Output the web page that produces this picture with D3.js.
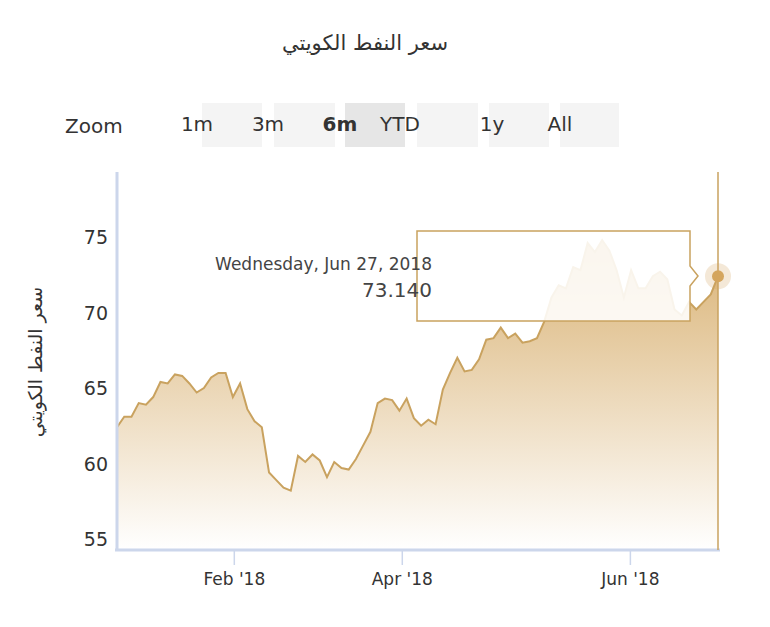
<!DOCTYPE html>
<html><head><meta charset="utf-8">
<script src="https://cdn.jsdelivr.net/npm/d3@7"></script>
<style>body{margin:0;background:#fff}</style></head>
<body><svg id="c" width="770" height="627"></svg>
<script>
const values=[62.4,63.1,63.1,64.0,63.9,64.4,65.4,65.3,65.9,65.8,
65.3,64.7,65.0,65.7,66.0,66.0,64.4,65.3,63.6,62.8,
62.4,59.4,58.9,58.4,58.2,60.5,60.1,60.6,60.2,59.1,
60.1,59.7,59.6,60.3,61.2,62.1,64.0,64.3,64.2,63.5,
64.3,63.0,62.5,62.9,62.6,64.9,66.0,67.0,66.1,66.2,
66.9,68.2,68.3,69.0,68.3,68.6,68.0,68.1,68.3,69.4,
71.0,71.8,71.6,73.0,72.8,74.6,74.0,74.8,74.1,72.8,
71.0,72.8,71.6,71.6,72.4,72.7,72.2,70.2,69.8,70.7,
70.2,70.7,71.2,72.4];
const xTickIdx=[16.2,39.4,70.9];
const xTickLabels=["Feb '18","Apr '18","Jun '18"];
const yTicks=[55,60,65,70,75];
const zoomButtons=["1m","3m","6m","YTD","1y","All"];
const title="سعر النفط الكويتي";
const tooltipDate="Wednesday, Jun 27, 2018";
const tooltipValue="73.140";

const svg=d3.select("#c");
const L=117,R=718,T=172,B=550;
const x=d3.scaleLinear().domain([0,values.length-1]).range([L,R]);
const y=d3.scaleLinear().domain([55,75]).range([539,237]);
const font="'DejaVu Sans',sans-serif";

svg.append("text").attr("x",365).attr("y",50).attr("text-anchor","middle")
 .attr("font-family","'DejaVu Sans',sans-serif").attr("font-size",21).attr("fill","#333").text(title);

// zoom buttons
svg.append("text").attr("x",65).attr("y",133).attr("font-family",font).attr("font-size",20).attr("fill","#333").text("Zoom");
const boxes=[[202,262],[274,290],[290,335],[345,405],[417,478],[489,549],[560,619]];
boxes.forEach((b,i)=>svg.append("rect").attr("x",b[0]).attr("y",103).attr("width",b[1]-b[0]).attr("height",44)
 .attr("fill",i==3?"#e6e6e6":"#f4f4f4"));
const btnX=[197,268,340,400,492,560];
zoomButtons.forEach((t,i)=>svg.append("text").attr("x",btnX[i]).attr("y",131).attr("text-anchor","middle")
 .attr("font-family",font).attr("font-size",20).attr("font-weight",i==2?"bold":"normal").attr("fill","#333").text(t));

// gradient
const g=svg.append("defs").append("linearGradient").attr("id","gr").attr("x1",0).attr("y1",0).attr("x2",0).attr("y2",1);
g.append("stop").attr("offset","0").attr("stop-color","#d9b274");
g.append("stop").attr("offset","1").attr("stop-color","#ffffff");

svg.append("path").datum(values).attr("fill","url(#gr)")
 .attr("d",d3.area().x((d,i)=>x(i)).y0(B).y1(d=>y(d)));
svg.append("path").datum(values).attr("fill","none").attr("stroke","#c9a25f").attr("stroke-width",2)
 .attr("d",d3.line().x((d,i)=>x(i)).y(d=>y(d)));

// axes
svg.append("line").attr("x1",L).attr("x2",L).attr("y1",T).attr("y2",B).attr("stroke","#ccd6eb").attr("stroke-width",3);
svg.append("line").attr("x1",L-2).attr("x2",R+2).attr("y1",B).attr("y2",B).attr("stroke","#ccd6eb").attr("stroke-width",3);
yTicks.forEach(t=>svg.append("text").attr("x",108).attr("y",y(t)+7).attr("text-anchor","end")
 .attr("font-family",font).attr("font-size",19).attr("fill","#333").text(t));
xTickIdx.forEach((t,i)=>{
 svg.append("line").attr("x1",x(t)).attr("x2",x(t)).attr("y1",B).attr("y2",B+15).attr("stroke","#ccd6eb").attr("stroke-width",1.5);
 svg.append("text").attr("x",x(t)).attr("y",585).attr("text-anchor","middle").attr("font-family",font)
  .attr("font-size",17).attr("fill","#333").text(xTickLabels[i]);
});
svg.append("text").attr("transform","translate(42,362) rotate(-90)").attr("text-anchor","middle")
 .attr("font-family",font).attr("font-size",19).attr("fill","#333").text(title);

// crosshair & marker
const lx=x(values.length-1), ly=y(values[values.length-1]);
svg.append("line").attr("x1",lx).attr("x2",lx).attr("y1",T).attr("y2",B).attr("stroke","#c9a25f").attr("stroke-width",1.5);
svg.append("circle").attr("cx",lx).attr("cy",ly).attr("r",13).attr("fill","rgba(212,165,94,0.25)");
svg.append("circle").attr("cx",lx).attr("cy",ly).attr("r",6).attr("fill","#d4a55e");

// tooltip
svg.append("path").attr("d",`M417,231 H690 V266 L698,276 L690,286 V321 H417 Z`)
 .attr("fill","rgba(255,255,255,0.88)").attr("stroke","#c9a25f").attr("stroke-width",1.5);
svg.append("text").attr("x",432).attr("y",270).attr("text-anchor","end").attr("font-family",font)
 .attr("font-size",17).attr("fill","#444").text(tooltipDate);
svg.append("text").attr("x",432).attr("y",297).attr("text-anchor","end").attr("font-family",font)
 .attr("font-size",20).attr("fill","#444").text(tooltipValue);
</script></body></html>
